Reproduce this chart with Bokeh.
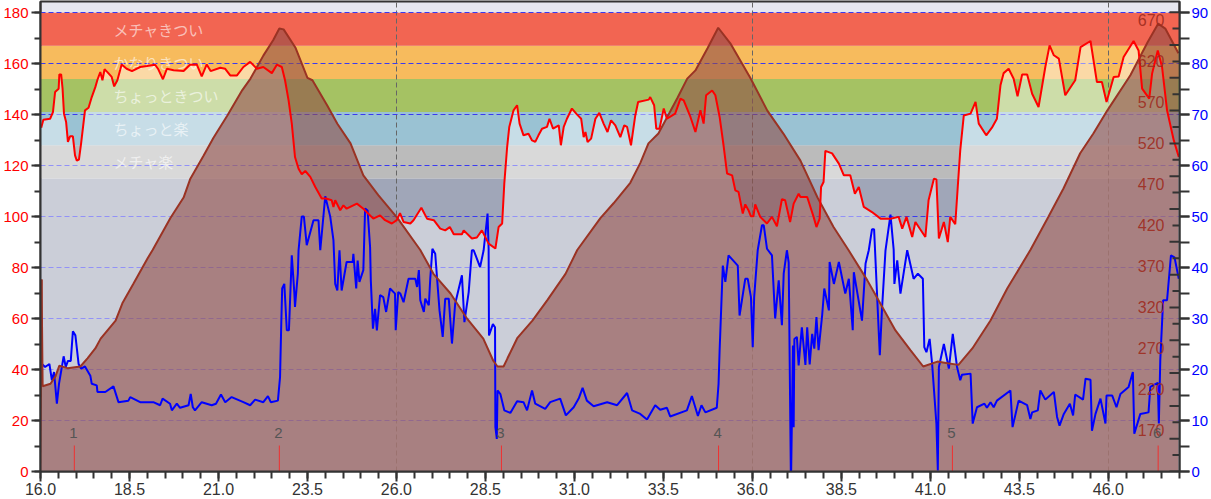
import math
from bokeh.embed import file_html
from bokeh.resources import INLINE
from bokeh.plotting import figure
from bokeh.models import (Range1d, LinearAxis, FixedTicker, NumeralTickFormatter, ColumnDataSource)
from bokeh.core.properties import value

zone_edges = [0, 115, 128, 141, 154, 167, 180]
zone_colors = ["#A0A6B8", "#BBBBBB", "#9AC2D3", "#A5C263", "#F7BB5D", "#F26552"]
zone_names = ["メチャ楽", "ちょっと楽", "ちょっときつい", "かなりきつい", "メチャきつい"]
zone_label_y = [121.5, 134.5, 147.5, 160.5, 173.5]

marker_d = [16.95, 22.71, 28.95, 35.05, 41.62, 47.4]
marker_names = ["1", "2", "3", "4", "5", "6"]

elev_labels = [170, 220, 270, 320, 370, 420, 470, 520, 570, 620, 670]
elev_ticks_long = [120, 160, 200, 240, 280, 320, 360, 400, 440, 480, 520, 560, 600, 640, 680]
elev_ticks_short = [140, 180, 220, 260, 300, 340, 380, 420, 460, 500, 540, 580, 620, 660]

elev_d = [16.03,16.06,16.28,16.42,16.53,16.76,17.12,17.32,17.54,17.69,18.11,18.3,18.61,19.01,19.15,19.65,20.02,20.21,20.58,20.86,21.25,21.67,21.9,22.26,22.54,22.71,22.83,23.16,23.5,23.64,24.06,24.34,24.71,25.07,25.49,26.03,26.11,26.67,27.04,27.52,27.99,28.44,28.72,28.84,29.01,29.12,29.4,29.82,30.24,30.75,31.08,31.73,32.1,32.57,32.85,33.08,33.36,33.89,34.17,34.4,34.74,35.04,35.38,35.94,36.42,36.87,37.35,37.83,38.28,38.7,39.23,39.54,40.02,40.44,40.8,41.2,41.48,41.79,42.18,42.69,43.16,43.81,44.31,44.74,45.21,45.58,45.97,46.62,47.1,47.4,47.6,47.97]
elev_v = [354,224,227,236,249,246,248,258,270,282,304,325,349,380,390,429,454,477,505,527,554,585,599,627,646,660,659,637,600,597,566,544,520,481,457,429,424,390,361,337,306,282,255,248,248,258,283,304,329,361,390,429,447,472,496,520,532,575,599,609,636,661,642,600,560,532,499,454,418,390,353,329,292,268,248,254,252,250,270,304,343,390,430,465,508,532,560,603,643,666,660,630]

hr_d = [16.02,16.08,16.27,16.35,16.41,16.51,16.53,16.58,16.62,16.66,16.72,16.77,16.83,16.91,16.97,17.02,17.08,17.14,17.25,17.35,17.44,17.54,17.6,17.68,17.74,17.8,17.88,18.0,18.07,18.16,18.28,18.42,18.57,18.8,18.99,19.22,19.31,19.44,19.55,19.74,20.02,20.2,20.39,20.53,20.67,20.78,21.05,21.19,21.33,21.52,21.7,21.89,22.08,22.26,22.5,22.64,22.78,22.87,22.97,23.06,23.15,23.25,23.34,23.44,23.58,23.72,23.9,24.02,24.18,24.23,24.28,24.42,24.51,24.6,24.89,25.07,25.35,25.54,25.68,25.87,26.01,26.1,
26.2,26.39,26.48,26.7,26.86,27.05,27.23,27.37,27.5,27.61,27.84,27.89,28.12,28.26,28.4,28.59,28.78,28.87,28.97,29.03,29.11,29.17,29.29,29.39,29.46,29.57,29.71,29.81,29.9,29.99,30.09,30.23,30.3,30.4,30.56,30.62,30.7,30.79,30.93,31.07,31.19,31.26,31.31,31.37,31.47,31.59,31.7,31.82,31.93,32.03,32.15,32.29,32.4,32.48,32.59,32.71,32.79,33.09,33.13,33.24,33.3,33.39,33.51,33.6,33.83,33.98,34.07,34.26,34.4,34.54,34.63,34.7,34.87,34.96,35.08,35.19,35.29,35.43,35.52,35.61,35.73,35.8,35.89,35.96,36.03,36.08,36.22,36.41,36.55,36.69,36.83,36.92,37.06,37.16,37.3,
37.35,37.54,37.72,37.8,37.89,37.93,38.0,38.05,38.24,38.43,38.57,38.75,38.88,38.99,39.13,39.36,39.6,39.88,40.11,40.21,40.33,40.49,40.58,40.86,40.95,41.1,41.17,41.24,41.38,41.49,41.56,41.7,41.77,41.84,41.94,42.13,42.27,42.36,42.57,42.73,42.87,42.97,43.06,43.2,43.34,43.45,43.58,43.72,43.86,44.04,44.23,44.35,44.47,44.61,44.79,45.07,45.22,45.5,45.68,45.82,45.95,46.15,46.29,46.43,46.71,46.85,46.95,47.15,47.23,47.39,47.51,47.65,47.84,47.98]
hr_v = [134.9,138,138.4,141,148.9,150.2,155.8,155.8,150.2,140.4,137.1,129.3,131.5,131.5,124,122,122.4,128.6,141.7,142.7,146.9,150.8,153.7,156.7,153.5,157.8,156.7,154.8,151.1,153.5,159.7,158,157.1,158.7,159.1,159.6,157.8,153.9,158,157.4,157.1,159.6,159.7,155,159.7,157.1,158.4,158,155.4,155.4,158.7,160.7,158,158.7,156.3,159.6,158.7,153.5,145.6,136.5,123.4,118.8,116.6,117.9,115.6,111.6,107.1,107.1,106.4,103.8,106.4,102.5,104.4,103.1,105.1,103.1,99.2,100.5,98.6,97.3,98.6,101.4,
97.9,97.3,98.6,103.5,99.2,98.6,95.3,94.6,95.9,93.1,93.1,94.6,91.4,91.8,94.6,89.4,87.5,95.9,97.3,112.9,127.3,135.2,141.7,143.7,136.5,131.9,132.5,129.9,129.3,131.9,134.5,135.2,138.4,134.5,135.8,128,135.2,138.4,142.4,140.1,138.4,131.2,133.2,129.3,130.6,138.4,140.7,136.5,133.2,137.8,135.8,131.2,135.8,135.2,128,139.7,145,145.9,146.9,143.7,134.5,134.5,142.4,138.4,140.4,146.3,145.6,139.1,133.2,141.7,136.5,147.6,149.5,147.6,139.1,128,116.9,116.2,110.3,109.7,101.2,104.8,102.5,100.1,100.1,104.8,99.9,97.3,99.9,96.2,106.8,106.4,97.9,105.1,109,
107.7,107.7,99.9,95.9,99.2,111.6,113.6,125.8,124.8,120.8,116.2,116.2,109,111.6,103.8,101.8,99.2,99.2,99.9,95.3,99.9,92,97.9,92,106.4,114.9,114.6,91.4,97.9,90,99.9,97,111.6,126,139.7,140.4,145,136.5,131.9,134.9,138.4,151.5,156.3,158,154.1,147.2,155.8,155.8,148.2,143,158.7,167.2,163.3,162,147.6,153.5,166.5,168.9,152.8,152.8,145,154.8,155,162.6,168.9,165.2,150.2,146.3,156.1,165.2,158.7,141.7,129.9,123.4]

sp_d = [16.04,16.13,16.25,16.32,16.38,16.46,16.52,16.65,16.71,16.77,16.85,16.91,16.98,17.07,17.14,17.25,17.4,17.44,17.58,17.6,17.82,18.05,18.19,18.47,18.52,18.8,19.17,19.36,19.43,19.64,19.69,19.83,19.92,20.16,20.22,20.28,20.34,20.53,20.81,20.93,21.07,21.19,21.37,21.7,21.89,22.03,22.26,22.39,22.47,22.67,22.73,22.76,22.79,22.85,22.92,22.98,23.06,23.13,23.15,23.23,23.25,23.34,23.4,23.48,23.67,23.81,23.86,24.0,24.14,24.23,24.28,24.34,24.4,24.46,24.6,24.77,24.79,24.87,24.91,24.96,25.07,25.12,25.19,25.26,25.28,25.34,25.4,25.45,25.54,25.63,25.71,25.82,25.96,25.98,26.05,
26.11,26.2,26.34,26.53,26.58,26.63,26.67,26.77,26.81,26.91,26.95,27.01,27.09,27.16,27.21,27.3,27.37,27.47,27.56,27.65,27.84,27.91,28.03,28.12,28.17,28.35,28.45,28.56,28.59,28.6,28.71,28.77,28.78,28.82,28.84,28.92,29.03,29.2,29.39,29.57,29.67,29.81,29.9,30.18,30.32,30.6,30.76,30.98,31.12,31.23,31.35,31.54,31.92,32.2,32.48,32.62,32.85,33.04,33.27,33.41,33.6,33.69,34.16,34.3,34.47,34.57,34.68,35.0,35.05,35.08,35.15,35.17,35.24,35.33,35.59,35.64,35.8,35.87,35.96,36.01,36.05,36.15,36.27,36.32,36.41,36.55,36.64,36.74,36.83,36.88,36.97,37.02,37.08,37.09,37.14,37.16,37.18,37.25,37.3,
37.35,37.39,37.49,37.54,37.61,37.68,37.74,37.8,37.86,37.96,38.02,38.15,38.17,38.29,38.43,38.61,38.71,38.82,38.85,39.08,39.18,39.27,39.36,39.42,39.58,39.64,39.74,39.88,39.97,39.99,40.07,40.16,40.35,40.53,40.65,40.79,40.83,40.89,40.98,41.05,41.17,41.21,41.24,41.38,41.52,41.63,41.75,41.84,41.89,42.13,42.19,42.31,42.52,42.59,42.69,42.78,42.87,43.25,43.31,43.48,43.72,43.81,43.86,44.02,44.09,44.23,44.47,44.56,44.63,44.75,44.92,45.01,45.07,45.29,45.36,45.5,45.54,45.64,45.78,45.92,45.95,46.11,46.23,46.34,46.57,46.69,46.73,46.9,47.13,47.18,47.39,47.42,47.46,47.54,47.65,47.76,47.86,47.98]
sp_v = [21.1,20.5,21.1,17.9,19.5,13.3,17.2,22.6,20.5,21.7,21.7,27.5,26.7,21.1,20.2,20.6,18.8,17.2,16.9,15.6,15.6,16.7,13.6,13.9,14.6,13.6,13.6,13,14.3,13.3,12,13.3,12.5,13,15.2,12.6,12,13.6,13,13.3,15.1,13.6,14.6,13.6,13,14.1,13.6,14.8,13.6,13.9,18.5,27.7,35.9,36.8,27.7,27.7,42.4,35.2,32.3,38.8,43.4,50,50,44.4,49.3,49.3,43.4,54,50,45.4,36.8,35.5,43.4,35.5,41.1,41.1,42.7,35.9,41.4,37.2,39.5,51.6,51.2,44,37.5,28,31.9,27.7,34.6,34.2,31.3,35.9,34.9,27.7,35.2,
34.9,33.2,37.8,37.8,36.2,39.5,33.6,31.3,33.9,32.6,37.8,43.7,42.7,36.2,31.6,26.4,33.9,33.9,25.1,32.9,38.5,29.3,35.2,43.4,43.4,40.1,43.4,50.6,43.7,26.7,28.9,28.3,8.7,6.4,15.9,15.2,12,11.5,13.8,13.6,12,15.9,13.3,12.3,13.6,14.3,11,12.6,14.3,16.4,13.9,12.8,13.6,13,15.4,12,11.3,10.2,13,12.1,12.5,10.8,12,14.8,10.9,13,11.6,12.5,17.2,23.8,36.8,40.4,37.2,42.4,40.4,30.6,37.8,37.8,34.2,24.4,34.2,43.4,48.3,48.3,43.7,42.4,30,37.5,28.7,38.8,43.4,41,0,0.2,24.7,8.7,26,26.4,20.8,
25.1,28.3,20.9,28.3,21,27,24.1,30.3,23.8,30.6,35.9,31.6,41.1,36.8,41.1,34.9,37.8,27.7,39.1,29.6,40.8,43.4,47.5,47.5,22.8,31.6,43.4,50.4,43.5,36.8,41.4,34.9,43.4,37.8,38.8,37.8,24.4,23.4,26,21.1,9.4,0.2,20.5,25,20.2,27,20.5,17.9,19,19.2,9.4,12.6,13.3,12.5,13.6,12.6,13.9,15.9,8.7,13.9,13,10.3,11.6,12,15.9,14.1,15.6,10.7,9,11.3,13.3,11,15.1,14.1,18.2,18,8,11.3,14.3,9.4,14.9,14.9,12.6,15.2,16.6,19.5,7.4,11.3,11.6,16.6,17.4,9.4,21.8,33.6,33.6,42.4,42,37.8]

FONT = "Liberation Sans"
JP = "Noto Sans CJK JP"

p = figure(width=1211, height=499, output_backend="svg", toolbar_location=None,
           x_range=Range1d(16, 48), y_range=Range1d(0, 184.4),
           min_border_left=40, min_border_right=32, min_border_top=1, min_border_bottom=28,
           background_fill_color="#E6E7F0", border_fill_color="#FFFFFF",
           outline_line_color="#333333", outline_line_width=2,
           styles={"position": "absolute", "left": "0", "top": "0"})
p.extra_y_ranges = {"speed": Range1d(0, 92.2), "elev": Range1d(120, 693)}

# bottom axis
xa = p.xaxis[0]
xa.ticker = FixedTicker(ticks=[16 + 2.5 * i for i in range(13)],
                        minor_ticks=[16 + 0.5 * i for i in range(65)])
xa.formatter = NumeralTickFormatter(format="0.0")
xa.major_tick_in = 0; xa.major_tick_out = 10
xa.minor_tick_in = 0; xa.minor_tick_out = 7
xa.major_tick_line_color = "#333333"; xa.minor_tick_line_color = "#333333"
xa.major_tick_line_width = 2; xa.minor_tick_line_width = 2
xa.axis_line_color = "#333333"; xa.axis_line_width = 2
xa.major_label_text_font = FONT; xa.major_label_text_font_size = "16px"
xa.major_label_text_color = "#333333"; xa.major_label_standoff = 1

# left axis
ya = p.yaxis[0]
ya.ticker = FixedTicker(ticks=list(range(0, 181, 20)), minor_ticks=list(range(0, 181, 10)))
ya.major_tick_in = 0; ya.major_tick_out = 9
ya.minor_tick_in = 0; ya.minor_tick_out = 6
ya.major_tick_line_color = "#333333"; ya.minor_tick_line_color = "#333333"
ya.major_tick_line_width = 2; ya.minor_tick_line_width = 2
ya.axis_line_color = "#333333"; ya.axis_line_width = 2
ya.major_label_text_font = FONT; ya.major_label_text_font_size = "15px"
ya.major_label_text_color = "#FF0000"; ya.major_label_standoff = 3

# right axis
ra = LinearAxis(y_range_name="speed",
                ticker=FixedTicker(ticks=list(range(0, 91, 10)), minor_ticks=list(range(0, 91, 5))))
ra.major_tick_in = 0; ra.major_tick_out = 10
ra.minor_tick_in = 0; ra.minor_tick_out = 10
ra.major_tick_line_color = "#333333"; ra.minor_tick_line_color = "#333333"
ra.major_tick_line_width = 2; ra.minor_tick_line_width = 2
ra.axis_line_color = "#333333"; ra.axis_line_width = 2
ra.major_label_text_font = FONT; ra.major_label_text_font_size = "15px"
ra.major_label_text_color = "#0000FF"; ra.major_label_standoff = 2
p.add_layout(ra, "right")

# grids
p.ygrid[0].ticker = FixedTicker(ticks=list(range(20, 181, 20)))
p.ygrid[0].grid_line_color = "#3A3AF0"
p.ygrid[0].grid_line_dash = "5 3"
p.ygrid[0].grid_line_width = 1
p.xgrid[0].ticker = FixedTicker(ticks=[26, 36, 46])
p.xgrid[0].grid_line_color = "#666666"
p.xgrid[0].grid_line_dash = "5 3"
p.xgrid[0].grid_line_width = 1

# heart-rate zones
p.quad(left=16, right=48, bottom=zone_edges[:-1], top=zone_edges[1:],
       fill_color=zone_colors, line_color=None, level="image")

# light fill below heart rate
p.varea(x=hr_d, y1=[0] * len(hr_d), y2=hr_v, fill_color="#FFFFFF", fill_alpha=0.45)

# zone names
p.text(x=[18.05] * 5, y=zone_label_y, text=zone_names, text_font=value(JP),
       text_font_size="15px", text_color="#FFFFFF", text_alpha=0.6,
       text_align="left", text_baseline="middle")

# elevation area
p.varea(x=elev_d, y1=[120] * len(elev_d), y2=elev_v, fill_color="#914D47", fill_alpha=0.6,
        y_range_name="elev")
p.line([16.0, 16.03], [120, 354], line_color="#9A3324", line_width=2, y_range_name="elev")

# speed
p.line(sp_d, sp_v, line_color="#0000FF", line_width=2, y_range_name="speed")
# elevation outline
p.line(elev_d, elev_v, line_color="#9A3324", line_width=2, y_range_name="elev")
# heart rate
p.line(hr_d, hr_v, line_color="#FF0000", line_width=2)

# elevation scale drawn inside the plot
p.text(x=[48] * len(elev_labels), y=elev_labels, text=[str(v) for v in elev_labels],
       x_offset=-15, y_range_name="elev", text_font=value(FONT), text_font_size="16px",
       text_color="#9E2B1E", text_alpha=0.9, text_align="right", text_baseline="middle")
p.ray(x=[48] * len(elev_ticks_long), y=elev_ticks_long, length=10, length_units="screen",
      angle=math.pi, line_color="#333333", line_width=2, y_range_name="elev")
p.ray(x=[48] * len(elev_ticks_short), y=elev_ticks_short, length=7, length_units="screen",
      angle=math.pi, line_color="#333333", line_width=2, y_range_name="elev")

# lap markers
p.ray(x=marker_d, y=[0] * len(marker_d), length=26, length_units="screen",
      angle=math.pi / 2, line_color="#F03030", line_width=1)
p.text(x=marker_d, y=[0] * len(marker_d), text=marker_names, y_offset=-39, x_offset=-1,
       text_font=value(FONT), text_font_size="15px", text_color="#555555",
       text_align="center", text_baseline="middle")

open("out.html", "w").write(file_html(p, INLINE))
